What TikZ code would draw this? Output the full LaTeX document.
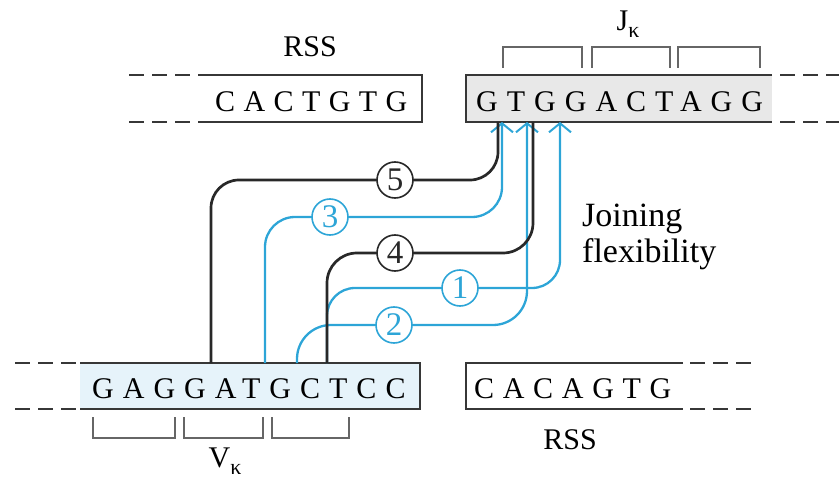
\documentclass[tikz,border=0pt]{standalone}
\usepackage{fontspec}
\setmainfont{Liberation Serif}
\newfontfamily\tms{Liberation Serif}
\usetikzlibrary{arrows.meta}
\definecolor{jblue}{RGB}{45,165,215}
\definecolor{jblack}{RGB}{40,40,40}
\definecolor{boxline}{RGB}{55,55,55}
\definecolor{jgray}{RGB}{232,232,232}
\definecolor{vblue}{RGB}{230,243,250}
\tikzset{
  seqtext/.style={anchor=base west, inner sep=0pt, font=\tms\fontsize{30}{30}\selectfont\addfontfeature{LetterSpace=#1}},
  lbl/.style={inner sep=0pt, font=\tms\fontsize{30}{30}\selectfont},
  biglbl/.style={inner sep=0pt, font=\tms\fontsize{34}{34}\selectfont},
  boxl/.style={draw=boxline, line width=2.4pt},
  dashl/.style={draw=boxline, line width=2.4pt, dash pattern=on 15pt off 8pt},
  brk/.style={draw=gray!80!black, line width=1.6pt},
  blkline/.style={draw=jblack, line width=2.7pt, rounded corners=#1},
  bluline/.style={draw=jblue, line width=2.3pt, rounded corners=#1, -{Straight Barb[length=9pt,width=22pt,line width=2pt]}},
  numc/.style={circle, draw=#1, line width=1.6pt, fill=white, minimum size=36pt, inner sep=0pt, text=#1, font=\tms\fontsize{33}{33}\selectfont},
}
\begin{document}
\begin{tikzpicture}[x=1pt,y=-1pt]
\useasboundingbox (0,0) rectangle (839,484);
% fills
\fill[jgray] (466,75) rectangle (772,122);
\fill[vblue] (80,363) rectangle (420,409);
% top left RSS box
\draw[dashl] (129,75) -- (200,75);
\draw[dashl] (129,122) -- (200,122);
\draw[boxl] (200,75) -- (422,75) -- (422,122) -- (200,122);
\node[seqtext=28] (rss1) at (215,112) {CACTGTG};
\node[lbl] (rsslab1) at (310,47) {RSS};
% top right J box
\draw[boxl] (772,75) -- (466,75) -- (466,122) -- (772,122);
\draw[dashl] (780,75) -- (839,75);
\draw[dashl] (780,122) -- (839,122);
\node[seqtext=30] (jseq) at (476,112) {GTGGACTAGG};
\draw[brk] (503,68) -- (503,47) -- (582,47) -- (582,68);
\draw[brk] (592,68) -- (592,47) -- (670,47) -- (670,68);
\draw[brk] (678,68) -- (678,47) -- (760,47) -- (760,68);
\node[lbl] (jlab) at (628,24) {J\raisebox{-7pt}{\fontsize{22}{22}\selectfont κ}};
% bottom left V box
\draw[dashl] (15,363) -- (80,363);
\draw[dashl] (15,409) -- (80,409);
\draw[boxl] (80,363) -- (420,363) -- (420,409) -- (80,409);
\node[seqtext=30] (vseq) at (92,398) {GAGGATGCTCC};
\draw[brk] (93,417) -- (93,438) -- (175,438) -- (175,417);
\draw[brk] (184,417) -- (184,438) -- (263,438) -- (263,417);
\draw[brk] (272,417) -- (272,438) -- (349,438) -- (349,417);
\node[lbl] (vlab) at (225,461) {V\raisebox{-7pt}{\fontsize{22}{22}\selectfont κ}};
% bottom right RSS box
\draw[boxl] (683,363) -- (466,363) -- (466,409) -- (683,409);
\draw[dashl] (690,363) -- (757,363);
\draw[dashl] (690,409) -- (757,409);
\node[seqtext=29] (rss2) at (474,398) {CACAGTG};
\node[lbl] (rsslab2) at (570,440) {RSS};
% joining flexibility
\node[biglbl, anchor=base west] (jf1) at (582,227) {Joining};
\node[biglbl, anchor=base west] (jf2) at (582,262) {flexibility};
% connector end points
\coordinate (s1) at (327,363); \coordinate (e1) at (560,122); \coordinate (p1) at (460,288);
\coordinate (s2) at (297,363); \coordinate (e2) at (527,122); \coordinate (p2) at (394,325);
\coordinate (s3) at (265,363); \coordinate (e3) at (502,122); \coordinate (p3) at (330,217);
\coordinate (s4) at (327,363); \coordinate (e4) at (533,122); \coordinate (p4) at (395,253);
\coordinate (s5) at (211,363); \coordinate (e5) at (498,122); \coordinate (p5) at (395,180);
% blue connectors
\draw[bluline=28pt] (s1) |- (p1) -| (e1);
\draw[bluline=34pt] (s2) |- (p2) -| (e2);
\draw[bluline=30pt] (s3) |- (p3) -| (e3);
% black connectors
\draw[blkline=30pt] (s4) |- (p4) -| (e4);
\draw[blkline=28pt] (s5) |- (p5) -| (e5);
% numbered circles
\node[numc=jblue] (n1) at (p1) {1};
\node[numc=jblue] (n2) at (p2) {2};
\node[numc=jblue] (n3) at (p3) {3};
\node[numc=jblack] (n4) at (p4) {4};
\node[numc=jblack] (n5) at (p5) {5};
\end{tikzpicture}
\end{document}
